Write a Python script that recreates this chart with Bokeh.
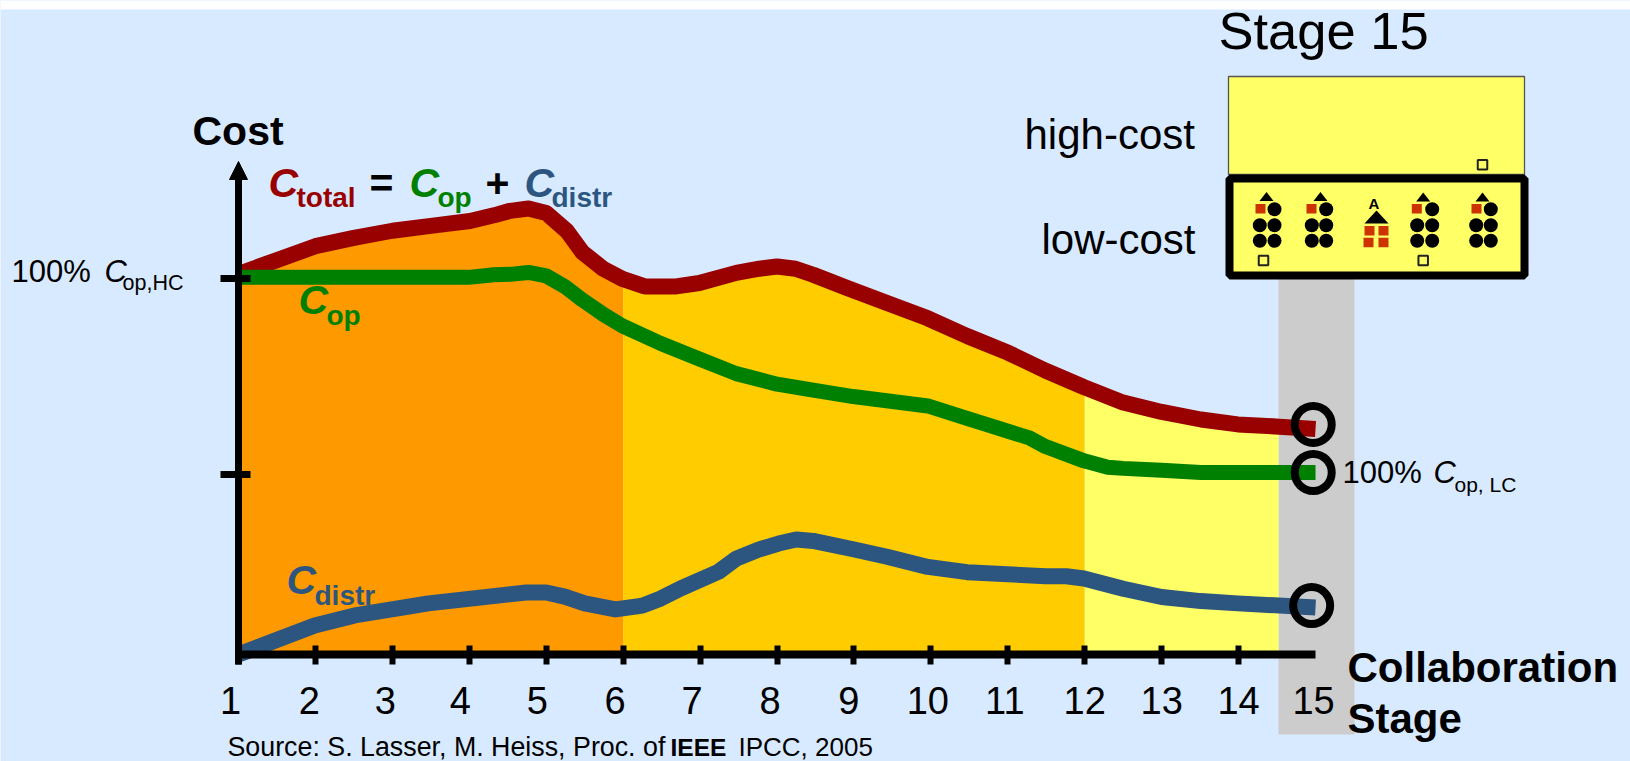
import numpy as np
from bokeh.embed import file_html
from bokeh.models import (ColumnDataSource, FixedTicker, Label, LinearAxis, NormalHead,
                          Arrow, Range1d)
from bokeh.plotting import figure
from bokeh.resources import INLINE

# Cost curves over the collaboration stages (percent of the high-cost operating cost)
total_stage = [1, 2, 2.5, 3, 3.5, 4.01, 4.32, 4.53, 4.77, 5, 5.27, 5.47, 5.74, 5.99, 6.28, 6.69, 6.99,
               7.47, 7.77, 8, 8.24, 8.47, 8.92, 9.43, 9.96, 10.47, 11.01, 11.49, 11.99, 12.5, 13, 13.51,
               13.99, 14.53, 15]
total_cost = [101.2, 108.6, 110.8, 112.7, 114, 115.3, 116.8, 118, 118.6, 117.4, 112.6, 107, 102.6, 99.9,
              97.9, 97.9, 98.8, 101.5, 102.6, 103.2, 102.6, 101, 97.4, 93.5, 89.4, 84.7, 80.2, 75.5, 71.1,
              67, 64.5, 62.5, 61.2, 60.6, 60]
op_stage = [1, 1.42, 3.99, 4.32, 4.53, 4.77, 5, 5.24, 5.47, 5.74, 5.99, 6.49, 6.99, 7.47, 8, 8.47, 8.99,
            9.96, 10.47, 11.28, 11.49, 11.99, 12.3, 12.5, 13, 13.51, 15]
op_cost = [100.3, 100.3, 100.3, 101, 101.1, 101.6, 100.7, 97.9, 94.3, 90.5, 87.4, 82.7, 78.6, 74.7, 71.9,
           70.3, 68.6, 66.1, 62.8, 57.6, 55.3, 51.5, 49.8, 49.5, 49, 48.4, 48.4]
distr_stage = [1, 1.99, 2.51, 3.47, 4.74, 5, 5.24, 5.5, 5.9, 6.25, 6.49, 6.75, 7.24, 7.47, 7.76, 8.02, 8.25,
               8.47, 8.99, 9.43, 9.96, 10.47, 11.49, 11.76, 11.99, 12.5, 13, 13.51, 13.99, 15]
distr_cost = [0, 7.7, 10.4, 13.6, 16.5, 16.5, 15.4, 13.6, 12, 13, 14.9, 17.6, 22, 25.5, 27.9, 29.5, 30.6,
              30.2, 28, 26, 23.3, 21.9, 20.8, 20.8, 20.2, 17.5, 15.3, 14.2, 13.6, 12.5]

# Shaded phases below the total-cost curve: (first stage, last stage, colour)
phases = [(1, 6, "#FF9900"), (6, 12, "#FFCC00"), (12, 14.52, "#FFFF66")]

stage_labels = ["1", "2", "3", "4", "5", "6", "7", "8", "9", "10", "11", "12", "13", "14", "15"]
stage_values = list(range(1, 16))
label_shift = [-8, -6, -7, -9, -9, -8, -8, -7, -5, -3, -3, 0, 0, 0, -2]
tick_stages = list(range(1, 15))
cost_ticks = [100, 47.9]

ring_stage = [14.97, 14.97, 14.95]
ring_cost = [61.2, 48.4, 13]

FONT = "Liberation Sans"
RED, GREEN, BLUE = "#990000", "#008000", "#2C5680"
SKY = "#D8EAFF"
W, H = 1630, 761
X0, XS = 238, 76.93     # pixel of stage 1, pixels per stage
Y0, YS = 654, 3.76      # pixel of cost 0, pixels per percent
RAISE = 0.39            # baseline correction, in font sizes

p = figure(width=W, height=H, output_backend="svg", toolbar_location=None, min_border=0,
           x_axis_type=None, y_axis_type=None,
           x_range=Range1d(1 - X0 / XS, 1 + (W - X0) / XS),
           y_range=Range1d(-(H - Y0) / YS, Y0 / YS))
p.grid.visible = False
p.outline_line_color = None
p.background_fill_color = SKY
p.border_fill_color = SKY
p.extra_x_ranges["px"] = Range1d(0, W)
p.extra_y_ranges["px"] = Range1d(H, 0)
PX = dict(x_range_name="px", y_range_name="px")

# white strip along the top edge, grey column under the stage 15 panel
p.quad(left=0, right=W, top=0, bottom=9, fill_color="white", line_color=None, **PX)
p.quad(left=1278, right=1354, top=278, bottom=734, fill_color="#CCCCCC", line_color=None, **PX)

# phase bands, each filled up to the total-cost curve
for first, last, colour in phases:
    inner = [s for s in total_stage if first < s < last]
    xs = np.array([first] + inner + [last], dtype=float)
    p.varea(x=xs, y1=np.zeros(len(xs)), y2=np.interp(xs, total_stage, total_cost), fill_color=colour)

# cost curves
for xs, ys, colour, width in [(total_stage, total_cost, RED, 16), (op_stage, op_cost, GREEN, 15),
                              (distr_stage, distr_cost, BLUE, 16)]:
    p.line(xs, ys, line_color=colour, line_width=width, line_cap="butt", line_join="round")

# rings around the stage 15 end points
p.scatter(ring_stage, ring_cost, marker="circle", size=37, fill_color=None, line_color="black", line_width=8)

# axes sit on the data origin, inside the frame
xaxis = LinearAxis(fixed_location=0, ticker=FixedTicker(ticks=tick_stages), bounds=(1, 15),
                   axis_line_color="black", axis_line_width=8, axis_line_cap="butt",
                   major_tick_line_color="black", major_tick_line_width=6,
                   major_tick_in=9, major_tick_out=10, minor_tick_line_color=None,
                   major_label_text_font_size="0px",
                   major_label_overrides={t: "" for t in tick_stages})
yaxis = LinearAxis(fixed_location=1, ticker=FixedTicker(ticks=cost_ticks), bounds=(-2.66, 120),
                   axis_line_color="black", axis_line_width=7, axis_line_cap="butt",
                   major_tick_line_color="black", major_tick_line_width=7,
                   major_tick_in=12, major_tick_out=18, minor_tick_line_color=None,
                   major_label_text_font_size="0px",
                   major_label_overrides={t: "" for t in cost_ticks})
p.add_layout(xaxis, "below")
p.add_layout(yaxis, "left")
p.add_layout(Arrow(end=NormalHead(size=18, fill_color="black", line_color="black"),
                   x_start=238, y_start=210, x_end=238, y_end=161, line_color="black", line_width=7, **PX))

stage_src = ColumnDataSource(dict(x=stage_values, y=[-16.5] * 15, t=stage_labels, dx=label_shift))
p.text("x", "y", text="t", x_offset="dx", y_offset=-RAISE * 38 - 1, source=stage_src, text_font={"value": FONT},
       text_font_size="38px", text_align="center", text_baseline="alphabetic", text_color="black")


def caption(x, y, text, size, colour="black", style="normal"):
    p.add_layout(Label(x=x, y=y - RAISE * size, text=text, text_font=FONT, text_font_size=f"{size}px",
                       text_color=colour, text_font_style=style, text_baseline="alphabetic", **PX))


caption(192, 146, "Cost", 41, style="bold")
caption(268, 198, "C", 41, RED, "bold italic")
caption(296, 208, "total", 28, RED, "bold")
caption(369, 198, "=", 41, style="bold")
caption(409, 198, "C", 41, GREEN, "bold italic")
caption(437, 208, "op", 28, GREEN, "bold")
caption(485, 198, "+", 41, style="bold")
caption(524, 198, "C", 41, BLUE, "bold italic")
caption(551, 208, "distr", 28, BLUE, "bold")
caption(298, 315, "C", 41, GREEN, "bold italic")
caption(326, 326, "op", 28, GREEN, "bold")
caption(286, 595, "C", 41, BLUE, "bold italic")
caption(314, 606, "distr", 28, BLUE, "bold")
caption(11, 283, "100%", 31)
caption(104, 283, "C", 31, style="italic")
caption(122, 291, "op,HC", 21.5)
caption(1342, 484, "100%", 31)
caption(1433, 484, "C", 31, style="italic")
caption(1454, 492, "op, LC", 21)
caption(1347, 683, "Collaboration", 42, style="bold")
caption(1347, 734, "Stage", 42, style="bold")
caption(227, 757, "Source: S. Lasser, M. Heiss, Proc. of", 26.8)
caption(670, 757, "IEEE", 24.5, style="bold")
caption(738, 757, "IPCC, 2005", 26)
caption(1218, 50, "Stage 15", 52.5)
caption(1024, 150, "high-cost", 42)
caption(1041, 255, "low-cost", 42)

# stage 15 panel: two boxes of clusters
p.quad(left=1228, right=1524, top=76, bottom=174, fill_color="#FFFF66", line_color="#555555", line_width=1.3, **PX)
p.quad(left=1229, right=1524, top=178, bottom=275, fill_color="#FFFF66", line_color="black", line_width=8, **PX)

panel_triangles = [(1266, 196, 14, 9), (1320, 196, 14, 9), (1376, 216.5, 24, 13), (1422.7, 196.5, 14, 9),
                   (1482, 196.5, 14, 9)]
panel_red_x = [1260, 1311, 1369, 1383, 1368, 1383, 1416.3, 1476]
panel_red_y = [208.3, 208.3, 230.3, 230.3, 242, 242, 208.3, 208.3]
panel_dot_x = [1274, 1259.3, 1274, 1259.3, 1274, 1325.7, 1311.3, 1325.7, 1311.3, 1325.7,
               1431.7, 1416.7, 1431.7, 1416.7, 1431.7, 1490.3, 1475.7, 1490.3, 1475.7, 1490.3]
panel_dot_y = [208.7, 224.7, 224.7, 240.3, 240.3] * 4
panel_open_x = [1482, 1263, 1422.7]
panel_open_y = [164.3, 260, 260]

p.patches([[c - w / 2, c, c + w / 2] for c, _, w, _ in panel_triangles],
          [[m + h / 2, m - h / 2, m + h / 2] for _, m, _, h in panel_triangles],
          fill_color="black", line_color=None, **PX)
p.rect(panel_red_x, panel_red_y, width=10, height=9.5, fill_color="#CC3300", line_color=None, **PX)
p.circle(panel_dot_x, panel_dot_y, radius=7, fill_color="black", line_color=None, **PX)
p.rect(panel_open_x, panel_open_y, width=9.5, height=9.5, fill_color=None, line_color="#222222", line_width=2, **PX)
caption(1368, 209, "A", 15, style="bold")

open("out.html", "w").write(file_html(p, INLINE))
